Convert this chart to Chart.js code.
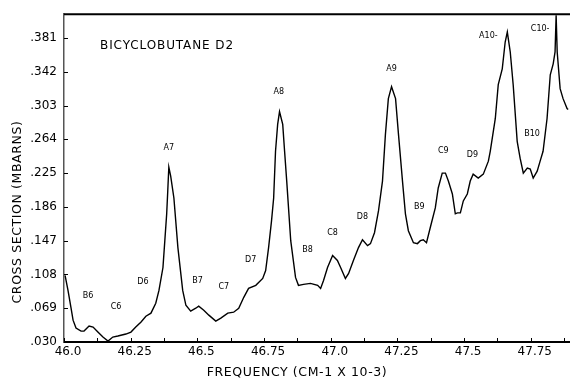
<!DOCTYPE html>
<html>
<head>
<meta charset="utf-8">
<script src="https://cdn.jsdelivr.net/npm/chart.js@4.4.0/dist/chart.umd.min.js"></script>
<style>
    html, body { margin: 0; padding: 0; background: #fff; }
    #wrap { width: 570px; height: 383px; position: relative; }
</style>
</head>
<body>
<div id="wrap"><canvas id="spectrumChart"></canvas></div>
<script>
const frequency = [
    46.004, 46.015, 46.026, 46.034, 46.045, 46.064, 46.075, 46.094, 46.109, 46.127,
    46.146, 46.165, 46.183, 46.202, 46.232, 46.251, 46.269, 46.288, 46.307, 46.326,
    46.344, 46.356, 46.371, 46.378, 46.385, 46.389, 46.393, 46.400, 46.412, 46.427,
    46.445, 46.457, 46.475, 46.494, 46.505, 46.524, 46.543, 46.569, 46.588, 46.614,
    46.636, 46.655, 46.674, 46.692, 46.719, 46.745, 46.756, 46.767, 46.778, 46.786,
    46.793, 46.801, 46.808, 46.820, 46.827, 46.835, 46.850, 46.868, 46.879, 46.898,
    46.924, 46.951, 46.962, 46.973, 46.988, 47.007, 47.025, 47.037, 47.055, 47.067,
    47.085, 47.104, 47.119, 47.138, 47.149, 47.164, 47.179, 47.194, 47.205, 47.216,
    47.228, 47.243, 47.254, 47.269, 47.280, 47.291, 47.310, 47.325, 47.336, 47.347,
    47.359, 47.373, 47.392, 47.403, 47.418, 47.430, 47.441, 47.456, 47.467, 47.475,
    47.486, 47.497, 47.512, 47.523, 47.534, 47.553, 47.572, 47.591, 47.598, 47.617,
    47.628, 47.643, 47.654, 47.662, 47.673, 47.684, 47.699, 47.710, 47.722, 47.737,
    47.748, 47.759, 47.774, 47.785, 47.796, 47.811, 47.823, 47.834, 47.841, 47.845,
    47.849, 47.860, 47.871, 47.886, 47.890
];
const crossSection = [
    .1068, .0896, .0701, .0552, .0461, .0426, .0426, .0484, .0472, .0415,
    .0357, .0311, .0357, .0369, .0392, .0415, .0472, .0529, .0598, .0633,
    .0747, .0896, .1160, .1470, .1780, .2043, .2319, .2215, .1963, .1390,
    .0896, .0724, .0656, .0690, .0713, .0667, .0610, .0541, .0575, .0633,
    .0644, .0690, .0816, .0919, .0954, .1034, .1126, .1390, .1699, .1963,
    .2502, .2812, .2961, .2812, .2502, .2158, .1470, .1046, .0954, .0965,
    .0977, .0954, .0919, .1011, .1160, .1298, .1241, .1160, .1034, .1091,
    .1241, .1390, .1481, .1413, .1436, .1562, .1814, .2158, .2697, .3110,
    .3248, .3110, .2697, .2158, .1780, .1585, .1447, .1436, .1470, .1481,
    .1447, .1619, .1848, .2078, .2250, .2250, .2158, .2009, .1780, .1791,
    .1791, .1929, .2009, .2158, .2238, .2193, .2238, .2388, .2502, .2881,
    .3271, .3454, .3764, .3879, .3649, .3271, .2617, .2422, .2250, .2307,
    .2296, .2193, .2273, .2388, .2502, .2881, .3385, .3512, .3649, .4074,
    .3649, .3225, .3110, .2995, .2984
];

// Etiquetas de los picos
const peakNames  = ['B6', 'C6', 'D6', 'A7', 'B7', 'C7', 'D7', 'A8', 'B8', 'C8', 'D8', 'A9', 'B9', 'C9', 'D9', 'A10-', 'B10', 'C10-'];
const peakFreq   = [46.090, 46.195, 46.296, 46.393, 46.501, 46.599, 46.700, 46.805, 46.913, 47.007, 47.119, 47.228, 47.332, 47.422, 47.531, 47.591, 47.755, 47.785];
const peakHeight = [0.0828, 0.0701, 0.0988, 0.2537, 0.1011, 0.0931, 0.1252, 0.3190, 0.1367, 0.1562, 0.1745, 0.3454, 0.1860, 0.2502, 0.2456, 0.3833, 0.2697, 0.3913];

// Marcas de los ejes
const xTickValues = [46.0, 46.25, 46.5, 46.75, 47.0, 47.25, 47.5, 47.75];
const xTickLabels = ['46.0', '46.25', '46.5', '46.75', '47.0', '47.25', '47.5', '47.75'];
const xTickMarks  = [46.0, 46.125, 46.25, 46.375, 46.5, 46.625, 46.75, 46.875, 47.0, 47.125, 47.25, 47.375, 47.5, 47.625, 47.75, 47.875];
const yTickValues = [0.030, 0.069, 0.108, 0.147, 0.186, 0.225, 0.264, 0.303, 0.342, 0.381];
const yTickLabels = ['.030', '.069', '.108', '.147', '.186', '.225', '.264', '.303', '.342', '.381'];

const FONT = '"DejaVu Sans", sans-serif';

// Plugin para marco superior, marcas interiores, etiquetas y títulos
const spectrumDecor = {
    id: 'spectrumDecor',
    afterDraw(chart) {
        const { ctx, chartArea: a, scales: { x, y } } = chart;
        ctx.save();
        ctx.strokeStyle = '#000';
        ctx.fillStyle = '#000';

        ctx.lineWidth = 2;
        ctx.beginPath();
        ctx.moveTo(a.left, a.top);
        ctx.lineTo(a.right, a.top);
        ctx.stroke();

        ctx.lineWidth = 1;
        yTickValues.forEach(v => {
            const py = Math.round(y.getPixelForValue(v)) + 0.5;
            ctx.beginPath();
            ctx.moveTo(a.left, py);
            ctx.lineTo(a.left + 4, py);
            ctx.stroke();
        });
        xTickMarks.forEach(v => {
            const px = Math.round(x.getPixelForValue(v)) + 0.5;
            ctx.beginPath();
            ctx.moveTo(px, a.bottom);
            ctx.lineTo(px, a.bottom - 4);
            ctx.stroke();
        });

        ctx.font = '8px ' + FONT;
        ctx.textAlign = 'center';
        ctx.textBaseline = 'middle';
        peakNames.forEach((name, i) => {
            ctx.fillText(name, x.getPixelForValue(peakFreq[i]), y.getPixelForValue(peakHeight[i]));
        });

        ctx.font = '12px ' + FONT;
        ctx.textAlign = 'left';
        ctx.letterSpacing = '0.9px';
        ctx.fillText('BICYCLOBUTANE D2', a.left + 36, a.top + 32);

        ctx.font = '12.5px ' + FONT;
        ctx.textAlign = 'center';
        ctx.letterSpacing = '0.6px';
        ctx.fillText('FREQUENCY (CM-1 X 10-3)', 297, 373);

        ctx.translate(18, 212);
        ctx.rotate(-Math.PI / 2);
        ctx.fillText('CROSS SECTION (MBARNS)', 0, 0);
        ctx.restore();
    }
};

const ctx = document.getElementById('spectrumChart').getContext('2d');
const spectrumChart = new Chart(ctx, {
    type: 'line',
    data: {
        datasets: [{
            data: frequency.map((f, i) => ({ x: f, y: crossSection[i] })),
            borderColor: '#000',
            borderWidth: 1.4,
            pointRadius: 0,
            tension: 0,
            fill: false
        }]
    },
    options: {
        responsive: true,
        maintainAspectRatio: false,
        animation: false,
        layout: { padding: { top: 12, right: 0, left: 0, bottom: 0 } },
        plugins: {
            legend: { display: false },
            tooltip: { enabled: false }
        },
        scales: {
            x: {
                type: 'linear',
                min: 46.0,
                max: 47.897,
                afterBuildTicks: scale => { scale.ticks = xTickValues.map(v => ({ value: v })); },
                afterFit: scale => { scale.height = 41; },
                ticks: {
                    callback: (value, index) => xTickLabels[index],
                    color: '#000',
                    font: { family: FONT, size: 12 },
                    padding: 3,
                    labelOffset: 4,
                    maxRotation: 0,
                    autoSkip: false
                },
                grid: { drawOnChartArea: false, drawTicks: false },
                border: { color: '#000', width: 2 }
            },
            y: {
                type: 'linear',
                min: 0.030,
                max: 0.4085,
                afterBuildTicks: scale => { scale.ticks = yTickValues.map(v => ({ value: v })); },
                afterFit: scale => { scale.width = 64; },
                ticks: {
                    callback: (value, index) => yTickLabels[index],
                    color: '#000',
                    font: { family: FONT, size: 12 },
                    padding: 7,
                    autoSkip: false
                },
                grid: { drawOnChartArea: false, drawTicks: false },
                border: { color: '#555', width: 1.5 }
            }
        }
    },
    plugins: [spectrumDecor]
});
</script>
</body>
</html>
